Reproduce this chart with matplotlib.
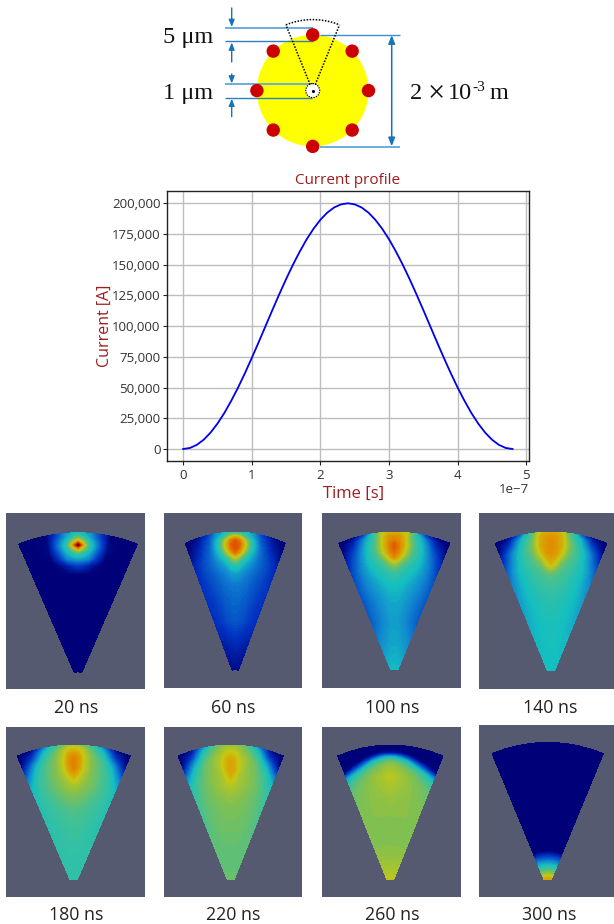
import numpy as np
import matplotlib
matplotlib.use("Agg")
import matplotlib.pyplot as plt
from matplotlib.colors import LinearSegmentedColormap
from matplotlib.patches import Circle, Rectangle
from matplotlib.ticker import FuncFormatter

plt.rcParams['font.family'] = ['Open Sans', 'DejaVu Sans']
W, H = 614, 924

# ---- current profile
time_s = [i * 1e-8 for i in range(49)]
current_a = [0, 860, 3400, 7600, 13400, 20700, 29300, 39200, 50000, 61700, 74100, 86900,
             100000, 113100, 125900, 138300, 150000, 160800, 170700, 179300, 186600, 192400,
             196600, 199100, 200000, 199100, 196600, 192400, 186600, 179300, 170700, 160800,
             150000, 138300, 125900, 113100, 100000, 86900, 74100, 61700, 50000, 39200,
             29300, 20700, 13400, 7600, 3400, 860, 0]
y_ticks = [0, 25000, 50000, 75000, 100000, 125000, 150000, 175000, 200000]

# ---- wedge field snapshots, values on radius (rows) x angle (columns)
radius_levels = [1.0, .97, .945, .92, .895, .865, .83, .78, .72, .64, .54, .40, .25, .06]
angle_levels = [0, 2, 4.5, 8, 12, 17, 22.5]

field_20 = [[.38,.36,.3,.15,.01,0,0],[.55,.45,.33,.18,.01,0,0],[.72,.6,.4,.22,.02,0,0],
            [1.0,.75,.44,.24,.02,0,0],[.75,.6,.42,.22,.02,0,0],[.5,.44,.35,.18,.01,0,0],
            [.34,.32,.28,.13,0,0,0],[.14,.12,.08,.02,0,0,0],[0,0,0,0,0,0,0],[0,0,0,0,0,0,0],
            [0,0,0,0,0,0,0],[0,0,0,0,0,0,0],[0,0,0,0,0,0,0],[0,0,0,0,0,0,0]]
field_60 = [[.42,.42,.38,.3,.14,.03,0],[.72,.66,.5,.34,.18,.06,0],[.84,.8,.66,.4,.2,.08,0],
            [.86,.83,.7,.42,.22,.1,.02],[.86,.82,.68,.41,.23,.12,.03],[.82,.76,.6,.38,.24,.14,.05],
            [.68,.6,.46,.34,.24,.16,.08],[.45,.42,.35,.29,.23,.17,.10],[.32,.31,.28,.25,.21,.16,.11],
            [.25,.25,.24,.22,.19,.15,.12],[.22,.22,.21,.2,.17,.14,.12],[.19,.19,.18,.17,.15,.13,.11],
            [.11,.11,.1,.1,.09,.08,.08],[.03,.03,.03,.03,.03,.03,.03]]
field_100 = [[.72,.72,.68,.46,.16,.02,0],[.78,.77,.7,.48,.3,.08,0],[.8,.78,.7,.5,.34,.12,0],
             [.84,.8,.71,.52,.37,.16,.02],[.84,.8,.7,.52,.38,.2,.04],[.82,.78,.68,.51,.39,.23,.07],
             [.78,.72,.6,.48,.39,.25,.1],[.6,.56,.5,.43,.37,.27,.14],[.46,.45,.42,.39,.34,.27,.17],
             [.38,.38,.37,.34,.31,.26,.19],[.34,.34,.33,.31,.28,.24,.19],[.32,.32,.31,.29,.27,.24,.2],
             [.33,.33,.33,.32,.31,.3,.28],[.37,.37,.37,.37,.37,.37,.37]]
field_140 = [[.74,.73,.68,.48,.22,.03,0],[.77,.76,.72,.52,.36,.1,0],[.78,.77,.72,.55,.4,.16,0],
             [.78,.77,.73,.57,.43,.22,.03],[.78,.77,.72,.57,.45,.28,.07],[.78,.76,.7,.56,.46,.31,.1],
             [.76,.73,.64,.53,.46,.33,.15],[.7,.66,.56,.5,.44,.36,.21],[.54,.52,.5,.47,.42,.36,.26],
             [.47,.47,.46,.44,.41,.36,.29],[.43,.43,.42,.41,.39,.36,.32],[.4,.4,.4,.39,.38,.36,.34],
             [.39,.39,.39,.38,.38,.37,.37],[.38,.38,.38,.38,.38,.38,.38]]
field_180 = [[.64,.62,.55,.44,.25,.03,0],[.7,.69,.62,.5,.36,.1,0],[.76,.73,.65,.54,.42,.16,0],
             [.79,.76,.66,.56,.47,.24,.03],[.8,.77,.67,.57,.5,.32,.08],[.8,.77,.67,.58,.52,.38,.14],
             [.79,.75,.66,.58,.53,.42,.22],[.72,.68,.63,.58,.53,.46,.31],[.63,.62,.6,.57,.53,.47,.38],
             [.56,.56,.55,.53,.5,.46,.41],[.51,.51,.5,.49,.47,.45,.42],[.47,.47,.47,.46,.45,.44,.43],
             [.45,.45,.45,.45,.44,.44,.44],[.44,.44,.44,.44,.44,.44,.44]]
field_220 = [[.6,.6,.57,.47,.28,.04,0],[.65,.64,.6,.53,.38,.1,0],[.69,.68,.62,.56,.44,.17,0],
             [.72,.7,.64,.58,.49,.25,.03],[.74,.72,.65,.6,.53,.33,.08],[.75,.72,.66,.6,.55,.4,.16],
             [.75,.72,.65,.6,.56,.46,.26],[.72,.68,.63,.6,.57,.5,.36],[.65,.64,.62,.6,.57,.52,.43],
             [.6,.6,.59,.58,.56,.53,.48],[.57,.57,.57,.56,.55,.53,.5],[.55,.55,.55,.55,.54,.53,.52],
             [.53,.53,.53,.53,.53,.53,.53],[.54,.54,.54,.54,.54,.54,.54]]
field_260 = [[0,0,0,0,0,0,0],[0,0,0,0,0,0,0],[.05,.05,.03,0,0,0,0],[.33,.32,.26,.14,.02,0,0],
             [.52,.5,.45,.36,.18,.02,0],[.6,.59,.56,.5,.38,.2,.03],[.63,.62,.6,.57,.52,.42,.28],
             [.66,.65,.63,.61,.58,.53,.46],[.64,.63,.62,.61,.59,.57,.53],[.61,.61,.6,.6,.59,.58,.56],
             [.59,.59,.59,.59,.59,.58,.58],[.58,.58,.58,.58,.58,.58,.58],[.59,.59,.59,.59,.59,.59,.59],
             [.66,.66,.66,.66,.66,.66,.66]]
field_300 = [[0,0,0,0,0,0,0]] * 13 + [[.75,.75,.75,.75,.75,.75,.75]]

panel_labels = ["20 ns", "60 ns", "100 ns", "140 ns", "180 ns", "220 ns", "260 ns", "300 ns"]
panel_fields = [field_20, field_60, field_100, field_140, field_180, field_220, field_260, field_300]

# layout in pixels: box (x0, y0, x1, y1), centre x, half width, arc top, wedge bottom, label x, label y
panel_boxes = [(6, 513, 145.3, 689), (164.3, 513, 301.7, 688), (322.3, 513, 461.3, 688.3), (479, 513, 614, 689.3),
               (6, 727.3, 145.3, 896.7), (164.3, 727.3, 301.7, 896.7), (322.3, 727.3, 461.3, 896.7), (479, 725, 614, 896.7)]
panel_wedges = [(78, 59, 533, 671.7), (235.3, 49.7, 532.3, 669.3), (394.3, 55.2, 532.3, 669), (551, 55.5, 532.3, 670),
                (73.7, 56.2, 745.3, 879), (230.7, 52.3, 745.3, 879), (390.3, 52.3, 745.3, 879), (547.7, 55.3, 742.7, 879)]
label_pos = [(76, 708), (233, 708), (392, 708), (550, 708), (76, 914.5), (233, 914.5), (392, 914.5), (549, 914.5)]

cmap = LinearSegmentedColormap.from_list("sim", [
    (0.00, "#000078"), (0.12, "#0030c0"), (0.28, "#1088d0"), (0.38, "#14bfc0"),
    (0.50, "#48c090"), (0.58, "#80c050"), (0.68, "#c8c810"), (0.78, "#e09000"),
    (0.88, "#e04000"), (1.00, "#800000")])

fig = plt.figure(figsize=(W / 100, H / 100), dpi=100, facecolor="white")
bg = fig.add_axes([0, 0, 1, 1])
bg.set_xlim(0, W)
bg.set_ylim(H, 0)
bg.axis("off")

# ---- schematic
cx, cy, R = 312.7, 90.6, 55.8
wire_angles = [0, 45, 90, 135, 180, 225, 270, 315]
serif = "Liberation Serif"
ink = "#111111"
bg.add_patch(Circle((cx, cy), R, fc="#ffff00", ec="none", zorder=1))
# blue leader lines
for y, x0, x1, c, lw in [(28, 225.3, 312.7, "#6aaedd", 1.4), (41.3, 225.3, 312.7, "#2a80c0", 1.0),
                         (84, 225.3, 312, "#6aaedd", 1.4), (97.7, 225.3, 312, "#2a80c0", 1.0),
                         (34.7, 320, 399.7, "#3c8fcc", 1.0), (146.7, 320, 400, "#6aaedd", 1.4)]:
    bg.plot([x0, x1], [y, y], color=c, lw=lw, zorder=2, solid_capstyle="butt")
for a in wire_angles:
    bg.add_patch(Circle((cx + R * np.sin(np.radians(a)), cy - R * np.cos(np.radians(a))), 6.7,
                        fc="#cc0000", ec="none", zorder=3))
bg.add_patch(Circle((cx, cy), 7, fc="white", ec="black", ls=(0, (1, 1)), lw=0.9, zorder=4))
bg.plot([cx], [cy], marker=".", ms=2.5, color="black", zorder=5)
sector_half = 22.2
sector_r = 71
arc_t = np.radians(np.linspace(-sector_half, sector_half, 30))
bg.plot(cx + sector_r * np.sin(arc_t), cy - sector_r * np.cos(arc_t), color="black",
        lw=1.1, ls=(0, (1, 1)), zorder=5)
for sgn in (-1, 1):
    bg.plot([cx + sgn * 2.5, cx + sgn * sector_r * np.sin(np.radians(sector_half))],
            [cy - 6, cy - sector_r * np.cos(np.radians(sector_half))],
            color="black", lw=1.1, ls=(0, (1, 1)), zorder=5)
for x, y0, y1 in [(231.7, 8, 27), (231.7, 62, 42.5), (231.7, 74, 83.5), (231.7, 116.7, 98.7)]:
    bg.annotate("", xy=(x, y1), xytext=(x, y0),
                arrowprops=dict(arrowstyle="-|>,head_width=0.17,head_length=0.42", color="#1574b8", lw=1.0,
                                shrinkA=0, shrinkB=0))
bg.annotate("", xy=(391.7, 35.2), xytext=(391.7, 146.2),
            arrowprops=dict(arrowstyle="<|-|>,head_width=0.2,head_length=0.5", color="#1574b8", lw=1.1,
                            shrinkA=0, shrinkB=0))
bg.text(163.3, 43, "5 μm", family=serif, fontsize=17.5, color=ink, va="baseline")
bg.text(163.3, 99, "1 μm", family=serif, fontsize=17.5, color=ink, va="baseline")
bg.text(410, 99, "2", family=serif, fontsize=17.5, color=ink, va="baseline")
bg.text(427.5, 101, "×", family=serif, fontsize=22, color=ink, va="baseline")
bg.text(447.5, 99, "10", family=serif, fontsize=17.5, color=ink, va="baseline")
bg.text(472, 91, "-3", family=serif, fontsize=11, color=ink, va="baseline")
bg.text(490, 99, "m", family=serif, fontsize=17.5, color=ink, va="baseline")

# ---- snapshots
radii = np.array(radius_levels)
half_angles = np.array(angle_levels)
angles = np.radians(np.concatenate((-half_angles[:0:-1], half_angles)))
s_max = np.sin(np.radians(22.5))
levels = np.linspace(0, 1, 81)
for field, box, wedge, lab, pos in zip(panel_fields, panel_boxes, panel_wedges, panel_labels, label_pos):
    x0, y0, x1, y1 = box
    bg.add_patch(Rectangle((x0, y0), x1 - x0, y1 - y0, fc="#555a70", ec="none", zorder=1))
    half = np.array(field, dtype=float)
    Z = np.hstack((half[:, :0:-1], half))
    xc, hw, top, bot = wedge
    sy = (bot - top) / (1 - radii[-1])
    rr, tt = np.meshgrid(radii, angles, indexing="ij")
    X = xc + hw / s_max * rr * np.sin(tt)
    Y = top + sy - sy * rr * np.cos(tt)
    cs = bg.contourf(X, Y, Z, levels=levels, cmap=cmap, vmin=0, vmax=1, zorder=2, extend="both")
    cs.set_edgecolor("face")
    cs.set_linewidth(0.3)
    bg.text(pos[0], pos[1], lab, ha="center", va="center", fontsize=12.8, color="#222222")

# ---- current plot
ax = fig.add_axes([166.7 / W, 1 - 461 / H, (529 - 166.7) / W, 270 / H])
ax.plot(time_s, current_a, color="#0000ee", lw=1.3, zorder=3)
ax.set_xlim(-0.24e-7, 5.04e-7)
ax.set_ylim(-9770, 210000)
ax.set_xticks([i * 1e-7 for i in range(6)])
ax.set_yticks(y_ticks)
ax.yaxis.set_major_formatter(FuncFormatter(lambda v, _: f"{int(v):,}"))
ax.grid(True, color="#bdbdbd", lw=1.0)
ax.set_axisbelow(True)
ax.tick_params(labelsize=9.5, colors="#222222", labelcolor="#333333", length=3, width=0.8, pad=1.5)
ax.tick_params(axis="x", pad=3)
ax.xaxis.get_offset_text().set_fontsize(9.5)
ax.xaxis.get_offset_text().set_color("#333333")
ax.xaxis.OFFSETTEXTPAD = 0.5
for s in ax.spines.values():
    s.set_color("#222222")
    s.set_linewidth(1.0)
dark_red = "#a01c1c"
ax.set_title("Current profile", fontsize=11, color=dark_red, pad=5)
ax.set_xlabel("Time [s]", fontsize=12, color=dark_red, labelpad=2.5, x=0.515)
ax.set_ylabel("Current [A]", fontsize=11.5, color=dark_red, labelpad=-1)

fig.savefig("out.png", dpi=100)
